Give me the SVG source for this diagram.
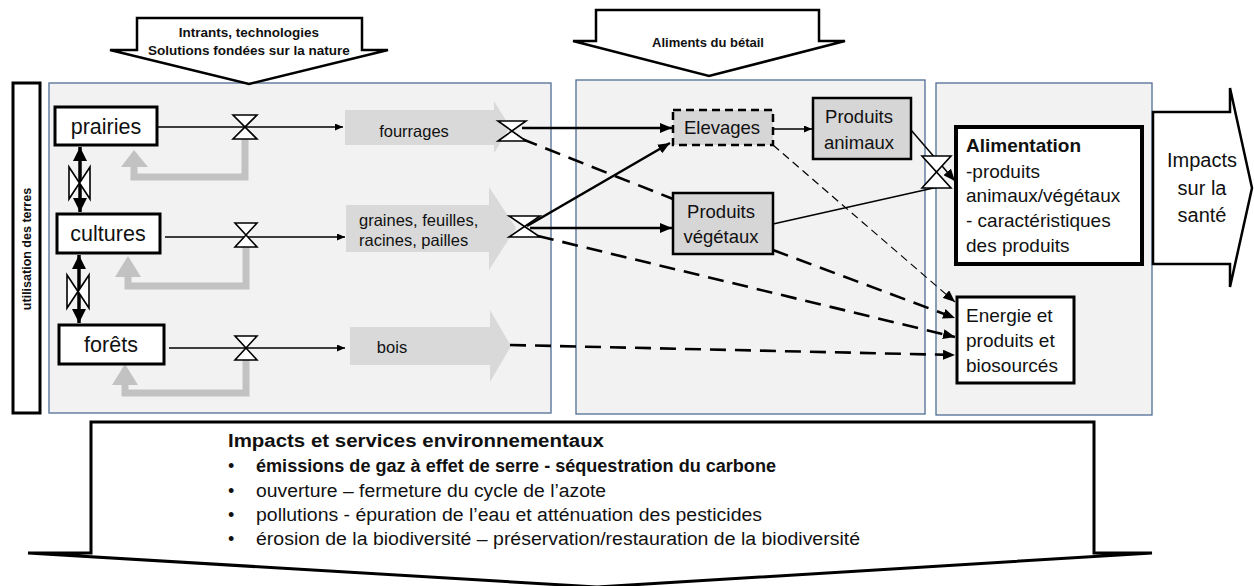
<svg xmlns="http://www.w3.org/2000/svg" width="1254" height="586" viewBox="0 0 1254 586">
<defs>
<style>
text{font-family:"Liberation Sans",Arial,sans-serif;fill:#111}
.panel{fill:#f2f2f2;stroke:#4f6d94;stroke-width:1.3}
.box{fill:#fff;stroke:#000;stroke-width:3}
.gbox{fill:#d6d6d6;stroke:#000;stroke-width:2.5}
.callout{fill:#fff;stroke:#000;stroke-width:2.5;stroke-linejoin:miter}
.fb{fill:none;stroke:#c2c2c2;stroke-width:7}
.fbh{fill:#c2c2c2}
.garrow{fill:#d9d9d9}
.thin{fill:none;stroke:#000;stroke-width:1.5}
.thick{fill:none;stroke:#000;stroke-width:2.6}
.dash{fill:none;stroke:#000;stroke-width:2.6;stroke-dasharray:16 9}
.tdash{fill:none;stroke:#000;stroke-width:1.2;stroke-dasharray:8 5}
.valve{fill:#fff;stroke:#000;stroke-width:1.6;stroke-linejoin:miter}
.n{font-size:21.5px;text-anchor:middle}
.g{font-size:16.5px}
.p{font-size:18.5px;text-anchor:middle}
.a{font-size:19px}
.b{font-size:18px}
</style>
<marker id="ms" viewBox="0 0 8 7" refX="8" refY="3.5" markerWidth="8" markerHeight="7" markerUnits="userSpaceOnUse" orient="auto"><path d="M0,0 L8,3.5 L0,7 z" fill="#000"/></marker>
<marker id="mb" viewBox="0 0 12 10" refX="12" refY="5" markerWidth="12" markerHeight="10" markerUnits="userSpaceOnUse" orient="auto"><path d="M0,0 L12,5 L0,10 z" fill="#000"/></marker>
<marker id="md" viewBox="0 0 14 14" refX="14" refY="7" markerWidth="14" markerHeight="14" markerUnits="userSpaceOnUse" orient="auto-start-reverse"><path d="M0,0 L14,7 L0,14 z" fill="#000"/></marker>
</defs>

<rect width="1254" height="586" fill="#fff"/>

<!-- panels -->
<g id="panels">
<rect class="panel" x="49" y="83" width="502" height="330"/>
<rect class="panel" x="576" y="80" width="349" height="334"/>
<rect class="panel" x="936" y="83" width="216" height="332"/>
</g>

<!-- top callouts -->
<g id="intrants">
<polygon class="callout" points="137,18 362,18 362,50 388,50 249,84 110,50 137,50"/>
<text x="249" y="37" font-size="13.5" font-weight="bold" text-anchor="middle">Intrants, technologies</text>
<text x="249" y="55" font-size="13.5" font-weight="bold" text-anchor="middle">Solutions fondées sur la nature</text>
</g>
<g id="aliments">
<polygon class="callout" points="596,10 819,10 819,41 845,41 709,76 573,41 596,41"/>
<text x="708" y="47" font-size="13" font-weight="bold" text-anchor="middle">Aliments du bétail</text>
</g>

<!-- left bar -->
<g id="utilisation">
<rect x="13" y="83" width="27" height="330" fill="#fff" stroke="#000" stroke-width="3"/>
<text transform="translate(31,249) rotate(-90)" font-size="12.5" font-weight="bold" text-anchor="middle">utilisation des terres</text>
</g>

<!-- feedback loops -->
<g id="feedback">
<path class="fb" d="M245,139 V177 H134 V162"/>
<polygon class="fbh" points="121,167 148,167 134,150"/>
<path class="fb" d="M246,247 V286 H128 V272"/>
<polygon class="fbh" points="115,277 141,277 128,256"/>
<path class="fb" d="M246,360 V393 H125 V382"/>
<polygon class="fbh" points="112,385 138,385 125,364"/>
</g>

<!-- big gray flow arrows -->
<g id="fourrages">
<polygon class="garrow" points="345,110 494,110 494,101 510,127 494,153 494,145 345,145"/>
<text class="g" x="414" y="137" text-anchor="middle">fourrages</text>
</g>
<g id="graines">
<polygon class="garrow" points="346,205 489,205 489,187 516,228 489,270 489,252 346,252"/>
<text class="g" x="359" y="226">graines, feuilles,</text>
<text class="g" x="359" y="246">racines, pailles</text>
</g>
<g id="bois">
<polygon class="garrow" points="350,327 490,327 490,310 511,346 490,382 490,365 350,365"/>
<text class="g" x="392" y="353" text-anchor="middle">bois</text>
</g>

<!-- land-use nodes -->
<g id="prairies">
<rect class="box" x="55" y="107" width="102" height="38"/>
<text class="n" x="106" y="134">prairies</text>
</g>
<g id="cultures">
<rect class="box" x="57" y="214" width="103" height="39"/>
<text class="n" x="108" y="241">cultures</text>
</g>
<g id="forets">
<rect class="box" x="59" y="325" width="105" height="39"/>
<text class="n" x="111" y="352">forêts</text>
</g>

<!-- livestock / plant product nodes -->
<g id="elevages">
<rect x="673" y="110" width="100" height="35" fill="#d6d6d6" stroke="#000" stroke-width="2.5" stroke-dasharray="8 5"/>
<text class="p" x="722" y="134" font-size="17.5">Elevages</text>
</g>
<g id="produits-animaux">
<rect class="gbox" x="813" y="98" width="98" height="61"/>
<text class="p" x="859" y="123">Produits</text>
<text class="p" x="859" y="149">animaux</text>
</g>
<g id="produits-vegetaux">
<rect class="gbox" x="673" y="193" width="100" height="61"/>
<text class="p" x="721" y="218">Produits</text>
<text class="p" x="721" y="243">végétaux</text>
</g>

<!-- outputs -->
<g id="alimentation">
<rect x="956" y="127" width="186" height="137" fill="#fff" stroke="#000" stroke-width="4"/>
<text class="a" x="966" y="152" font-weight="bold">Alimentation</text>
<text class="a" x="966" y="178">-produits</text>
<text class="a" x="966" y="202">animaux/végétaux</text>
<text class="a" x="966" y="227">- caractéristiques</text>
<text class="a" x="966" y="252">des produits</text>
</g>
<g id="energie">
<rect class="box" x="957" y="297" width="117" height="86" stroke-width="2.8"/>
<text class="a" x="966" y="322">Energie et</text>
<text class="a" x="966" y="347">produits et</text>
<text class="a" x="966" y="372">biosourcés</text>
</g>
<g id="impacts-sante">
<polygon class="callout" points="1153,112 1230,112 1230,88 1252,188 1230,287 1230,264 1153,264"/>
<text x="1202" y="167" font-size="20" text-anchor="middle">Impacts</text>
<text x="1202" y="195" font-size="20" text-anchor="middle">sur la</text>
<text x="1202" y="222" font-size="20" text-anchor="middle">santé</text>
</g>

<!-- environmental impacts -->
<g id="impacts-env">
<polygon points="91,422 1094,422 1094,553 1152,553 597,587 28,553 91,553" fill="#fff" stroke="#000" stroke-width="3" stroke-linejoin="miter"/>
<text class="b" x="228" y="447" font-weight="bold" textLength="376" lengthAdjust="spacingAndGlyphs">Impacts et services environnementaux</text>
<text class="b" x="228" y="472">•</text>
<text class="b" x="256" y="472" font-weight="bold" textLength="520" lengthAdjust="spacingAndGlyphs">émissions de gaz à effet de serre - séquestration du carbone</text>
<text class="b" x="228" y="497">•</text>
<text class="b" x="256" y="497" textLength="350" lengthAdjust="spacingAndGlyphs">ouverture – fermeture du cycle de l’azote</text>
<text class="b" x="228" y="521">•</text>
<text class="b" x="256" y="521" textLength="506" lengthAdjust="spacingAndGlyphs">pollutions - épuration de l’eau et atténuation des pesticides</text>
<text class="b" x="228" y="545">•</text>
<text class="b" x="256" y="545" textLength="604" lengthAdjust="spacingAndGlyphs">érosion de la biodiversité – préservation/restauration de la biodiversité</text>
</g>

<!-- connectors -->
<g id="connectors">
<line class="thin" x1="157" y1="127" x2="343" y2="127" marker-end="url(#ms)"/>
<line class="thin" x1="165" y1="237" x2="345" y2="237" marker-end="url(#ms)"/>
<line class="thin" x1="169" y1="348" x2="345" y2="348" marker-end="url(#ms)"/>
<line x1="80" y1="147" x2="80" y2="212" stroke="#000" stroke-width="3.5" marker-start="url(#md)" marker-end="url(#md)"/>
<line x1="79" y1="255" x2="79" y2="323" stroke="#000" stroke-width="3.5" marker-start="url(#md)" marker-end="url(#md)"/>
<line class="thick" x1="522" y1="128" x2="672" y2="128" marker-end="url(#mb)"/>
<line class="thick" x1="527" y1="226" x2="670" y2="143" marker-end="url(#mb)"/>
<line class="thick" x1="530" y1="228" x2="672" y2="228" marker-end="url(#mb)"/>
<line class="dash" x1="522" y1="139" x2="673" y2="199"/>
<line class="dash" x1="538" y1="236" x2="955" y2="337" marker-end="url(#mb)"/>
<line class="dash" x1="510" y1="345" x2="955" y2="355" marker-end="url(#mb)"/>
<line class="dash" x1="773" y1="250" x2="955" y2="318" marker-end="url(#mb)"/>
<line class="tdash" x1="773" y1="145" x2="955" y2="302" marker-end="url(#mb)"/>
<line class="thin" x1="773" y1="129" x2="812" y2="129" marker-end="url(#ms)"/>
<line class="thin" x1="911" y1="130" x2="955" y2="181" marker-end="url(#mb)"/>
<line class="thin" x1="773" y1="224" x2="938" y2="187"/>
</g>

<!-- valves -->
<g id="valves">
<path class="valve" d="M233,115 H257 L233,139 H257 Z"/>
<path class="valve" d="M235,223 H257 L235,247 H257 Z"/>
<path class="valve" d="M235,336 H257 L235,360 H257 Z"/>
<path class="valve" d="M498,121 H526 L498,141 H526 Z"/>
<path class="valve" d="M509,216 H540 L509,237 H540 Z"/>
<path class="valve" d="M922,156 H951 L922,188 H951 Z"/>
<path class="valve" d="M69,167 V199 L90,167 V199 Z"/>
<path class="valve" d="M67,275 V308 L89,275 V308 Z"/>
</g>
</svg>
